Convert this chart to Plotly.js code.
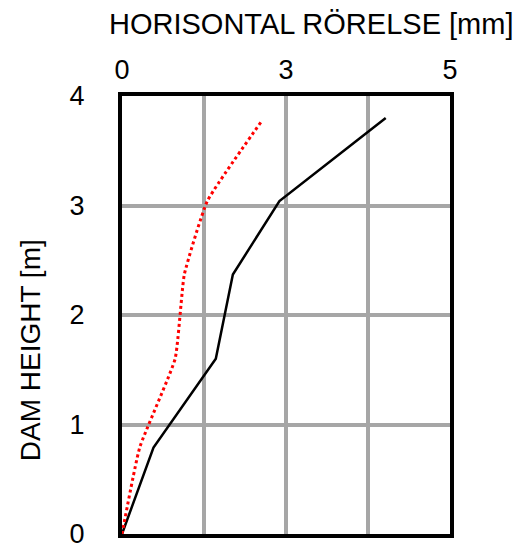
<!DOCTYPE html>
<html>
<head>
<meta charset="utf-8">
<script src="https://cdn.plot.ly/plotly-3.0.1.min.js"></script>
<style>
  html, body { margin: 0; padding: 0; background: #fff; }
  #chart { width: 524px; height: 553px; }
</style>
</head>
<body>
<div id="chart"></div>
<script>
// Dam height [m] against horizontal movement [mm], two measurement series
const heightSolid  = [0, 0.79, 1.60, 2.37, 3.04, 3.80];
const moveSolid    = [0, 0.48, 1.43, 1.69, 2.40, 4.02];
const heightDotted = [0, 0.79, 1.60, 2.37, 3.04, 3.78];
const moveDotted   = [0, 0.27, 0.81, 0.95, 1.30, 2.14];

// Grid every 1.25 mm, labels rounded to whole mm on every other line
const xTickVals = [0, 1.25, 2.5, 3.75, 5];
const xTickText = ['0', '', '3', '', '5'];
const yTickVals = [0, 1, 2, 3, 4];
const yTickText = ['0', '1', '2', '3', '4'];

const FONT = 'Liberation Sans, Arial, sans-serif';

const traces = [
  {
    x: moveSolid, y: heightSolid,
    type: 'scatter', mode: 'lines',
    line: { color: '#000000', width: 2.5 },
    showlegend: false, hoverinfo: 'x+y'
  },
  {
    x: moveDotted, y: heightDotted,
    type: 'scatter', mode: 'lines',
    line: { color: '#ff0000', width: 3, dash: 'dot', shape: 'spline', smoothing: 0.4 },
    showlegend: false, hoverinfo: 'x+y'
  }
];

const axisCommon = {
  showgrid: true, gridcolor: '#a6a6a6', gridwidth: 4,
  showline: true, linecolor: '#000000', linewidth: 4, mirror: true,
  zeroline: false, ticks: '',
  tickfont: { family: FONT, size: 27, color: '#000000' },
  ticklabeloverflow: 'allow',
  fixedrange: true
};

const layout = {
  width: 524, height: 553,
  margin: { l: 122, r: 74, t: 96, b: 19, pad: 0 },
  paper_bgcolor: '#ffffff', plot_bgcolor: '#ffffff',
  font: { family: FONT, color: '#000000' },
  title: {
    text: 'HORISONTAL RÖRELSE [mm]',
    font: { family: FONT, size: 29, color: '#000000' },
    xref: 'container', yref: 'container',
    x: 0.594, xanchor: 'center',
    y: 1 - 24 / 553, yanchor: 'middle'
  },
  xaxis: Object.assign({}, axisCommon, {
    side: 'top', range: [0, 5],
    tickmode: 'array', tickvals: xTickVals, ticktext: xTickText,
    ticklabelstandoff: 2
  }),
  yaxis: Object.assign({}, axisCommon, {
    range: [0, 4],
    tickmode: 'array', tickvals: yTickVals, ticktext: yTickText,
    ticklabelstandoff: 28
  }),
  annotations: [{
    text: 'DAM HEIGHT [m]',
    textangle: -90,
    xref: 'paper', yref: 'paper',
    x: -0.28, y: 0.42,
    xanchor: 'center', yanchor: 'middle',
    showarrow: false,
    font: { family: FONT, size: 28, color: '#000000' }
  }]
};

Plotly.newPlot('chart', traces, layout, { displayModeBar: false, staticPlot: true });
</script>
</body>
</html>
